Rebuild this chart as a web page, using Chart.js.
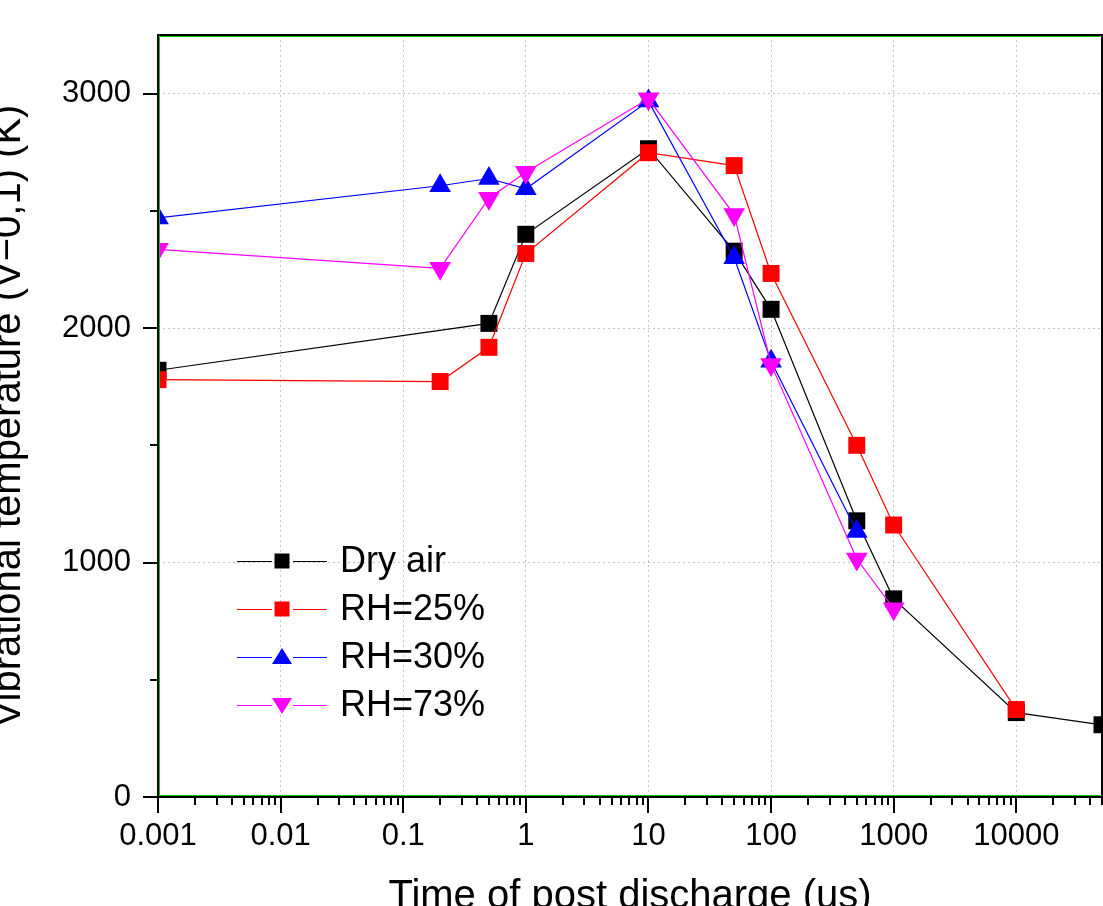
<!DOCTYPE html>
<html>
<head>
<meta charset="utf-8">
<script src="https://cdn.jsdelivr.net/npm/chart.js@4"></script>
<style>
  html, body { margin: 0; padding: 0; background: #fff; overflow: hidden; width: 1103px; height: 906px; }
  #chart { position: absolute; left: -15px; top: 0; }
</style>
</head>
<body>
<canvas id="chart" width="1118" height="921"></canvas>
<script>
// series names / colours
const seriesNames = ['Dry air', 'RH=25%', 'RH=30%', 'RH=73%'];
const seriesColors = ['#000000', '#ff0000', '#0000ff', '#ff00ff'];

// time of post discharge (us) and vibrational temperature (K)
const dryTime = [0.001, 0.5, 1, 10, 50, 100, 500, 1000, 10000, 50000];
const dryTemp = [1820, 2020, 2400, 2765, 2328, 2080, 1178, 845, 360, 308];

const rh25Time = [0.001, 0.2, 0.5, 1, 10, 50, 100, 500, 1000, 10000];
const rh25Temp = [1780, 1772, 1918, 2318, 2748, 2693, 2233, 1500, 1160, 373];

const rh30Time = [0.001, 0.2, 0.5, 1, 10, 50, 100, 500];
const rh30Temp = [2470, 2607, 2638, 2594, 2968, 2300, 1858, 1132];

const rh73Time = [0.001, 0.2, 0.5, 1, 10, 50, 100, 500, 1000];
const rh73Temp = [2336, 2255, 2554, 2665, 2978, 2484, 1845, 1015, 803];

// axis ticks
const xMajorTicks = [0.001, 0.01, 0.1, 1, 10, 100, 1000, 10000];
const xTickLabels = ['0.001', '0.01', '0.1', '1', '10', '100', '1000', '10000'];
const yMajorTicks = [0, 1000, 2000, 3000];
const yMinorTicks = [500, 1500, 2500];

const FONT = "'Liberation Sans', Arial, sans-serif";

function pts(xs, ys) {
    return xs.map((x, i) => ({ x: x, y: ys[i] }));
}

function noPad(s) {
    s.paddingTop = 0;
    s.paddingBottom = 0;
    s.paddingLeft = 0;
    s.paddingRight = 0;
}

// frame, outward major/minor tick marks
const framePlugin = {
    id: 'frame',
    afterDraw(chart) {
        const ctx = chart.ctx;
        const a = chart.chartArea;
        const xs = chart.scales.x;
        const ys = chart.scales.y;
        ctx.save();

        ctx.strokeStyle = '#000';
        ctx.lineWidth = 2;
        ctx.beginPath();
        for (let d = 0; d < xMajorTicks.length; d++) {
            const base = xMajorTicks[d];
            const px = Math.round(xs.getPixelForValue(base));
            ctx.moveTo(px, a.bottom);
            ctx.lineTo(px, a.bottom + 16);
            for (let m = 2; m <= 9; m++) {
                const v = base * m;
                if (v > xs.max) break;
                const mp = Math.round(xs.getPixelForValue(v));
                ctx.moveTo(mp, a.bottom);
                ctx.lineTo(mp, a.bottom + 8);
            }
        }
        yMajorTicks.forEach(v => {
            const py = Math.round(ys.getPixelForValue(v));
            ctx.moveTo(a.left, py);
            ctx.lineTo(a.left - 15, py);
        });
        yMinorTicks.forEach(v => {
            const py = Math.round(ys.getPixelForValue(v));
            ctx.moveTo(a.left, py);
            ctx.lineTo(a.left - 8, py);
        });
        ctx.stroke();

        ctx.strokeRect(a.left, a.top, a.right - a.left, a.bottom - a.top);
        ctx.strokeStyle = '#00c800';
        ctx.lineWidth = 1;
        ctx.beginPath();
        ctx.moveTo(a.left + 1.5, a.top + 1.5);
        ctx.lineTo(a.right - 1.5, a.top + 1.5);
        ctx.moveTo(a.left + 1.5, a.top + 1.5);
        ctx.lineTo(a.left + 1.5, a.bottom - 1.5);
        ctx.moveTo(a.left + 1.5, a.bottom - 1.5);
        ctx.lineTo(a.right - 1.5, a.bottom - 1.5);
        ctx.stroke();
        ctx.restore();
    }
};

// legend drawn inside the plot, lower left
const legendPlugin = {
    id: 'innerLegend',
    afterDraw(chart) {
        const ctx = chart.ctx;
        const x0 = chart.chartArea.left + 79;
        ctx.save();
        chart.data.datasets.forEach((ds, i) => {
            const y = 561 + i * 48;
            const mx = x0 + 45;
            ctx.strokeStyle = ds.borderColor;
            ctx.lineWidth = 1;
            ctx.beginPath();
            ctx.moveTo(x0, y + 0.5);
            ctx.lineTo(mx - 10, y + 0.5);
            ctx.moveTo(mx + 11, y + 0.5);
            ctx.lineTo(x0 + 90, y + 0.5);
            ctx.stroke();

            ctx.fillStyle = ds.backgroundColor;
            ctx.beginPath();
            if (ds.pointStyle === 'rect') {
                ctx.rect(mx - 7.5, y - 7.5, 15, 15);
            } else if (ds.pointRotation === 180) {
                ctx.moveTo(mx - 10, y - 7);
                ctx.lineTo(mx + 10, y - 7);
                ctx.lineTo(mx, y + 9);
            } else {
                ctx.moveTo(mx - 10, y + 7);
                ctx.lineTo(mx + 10, y + 7);
                ctx.lineTo(mx, y - 9);
            }
            ctx.closePath();
            ctx.fill();

            ctx.fillStyle = '#000';
            ctx.font = '36px ' + FONT;
            ctx.textAlign = 'left';
            ctx.textBaseline = 'middle';
            ctx.fillText(seriesNames[i], x0 + 103, y + 1);
        });
        ctx.restore();
    }
};

function makeSet(i, xs, ys, style, radius, rotation, order) {
    return {
        label: seriesNames[i],
        data: pts(xs, ys),
        borderColor: seriesColors[i],
        backgroundColor: seriesColors[i],
        borderWidth: 1.2,
        pointStyle: style,
        pointRotation: rotation,
        pointRadius: radius,
        pointHoverRadius: radius,
        pointBorderWidth: 0,
        tension: 0,
        order: order
    };
}

const ctx = document.getElementById('chart').getContext('2d');
new Chart(ctx, {
    type: 'line',
    data: {
        datasets: [
            makeSet(0, dryTime, dryTemp, 'rect', 12, 0, 4),
            makeSet(1, rh25Time, rh25Temp, 'rect', 12, 0, 3),
            makeSet(2, rh30Time, rh30Temp, 'triangle', 12.5, 0, 2),
            makeSet(3, rh73Time, rh73Temp, 'triangle', 12.5, 180, 1)
        ]
    },
    options: {
        responsive: false,
        animation: false,
        devicePixelRatio: 1,
        layout: { autoPadding: false, padding: { left: 0, top: 35, right: 1, bottom: 0 } },
        plugins: {
            legend: { display: false },
            tooltip: { enabled: false }
        },
        scales: {
            x: {
                type: 'logarithmic',
                min: 0.001,
                max: 50000,
                afterBuildTicks: s => { s.ticks = xMajorTicks.map(v => ({ value: v })); },
                afterFit: s => { s.height = 124; noPad(s); },
                grid: { color: '#c4c4c4', lineWidth: 1, drawTicks: false },
                border: { display: false, dash: [2, 3] },
                ticks: {
                    autoSkip: false,
                    maxRotation: 0,
                    padding: 21,
                    color: '#000',
                    font: { family: FONT, size: 31 },
                    callback: (v, i) => xTickLabels[i]
                },
                title: {
                    display: true,
                    text: 'Time of post discharge (us)',
                    color: '#000',
                    font: { family: FONT, size: 40 },
                    padding: 0
                }
            },
            y: {
                min: 0,
                max: 3250,
                afterBuildTicks: s => { s.ticks = yMajorTicks.map(v => ({ value: v })); },
                afterFit: s => { s.width = 173; noPad(s); },
                grid: { color: '#c4c4c4', lineWidth: 1, drawTicks: false },
                border: { display: false, dash: [2, 3] },
                ticks: {
                    padding: 27,
                    color: '#000',
                    font: { family: FONT, size: 31 },
                    callback: v => String(v)
                },
                title: {
                    display: true,
                    text: 'Vibrational temperature (V\u22120,1) (K)',
                    color: '#000',
                    font: { family: FONT, size: 40 },
                    padding: 0
                }
            }
        }
    },
    plugins: [framePlugin, legendPlugin]
});
</script>
</body>
</html>
